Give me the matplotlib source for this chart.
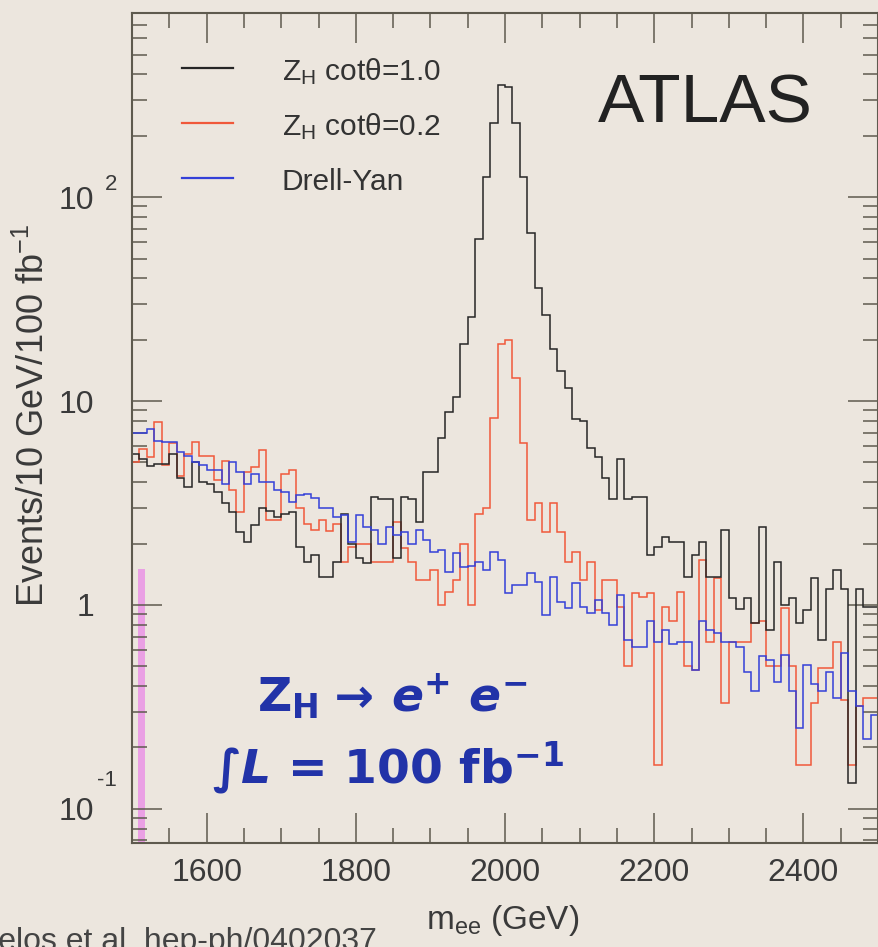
import numpy as np
import matplotlib
matplotlib.use('Agg')
import matplotlib.pyplot as plt
from matplotlib.ticker import MultipleLocator, LogLocator, FixedLocator, NullFormatter

plt.rcParams['font.family'] = ['Liberation Sans', 'DejaVu Sans']
plt.rcParams['mathtext.default'] = 'regular'

# 10 GeV bins between 1.5 and 2.5 TeV
edges = np.arange(1500, 2501, 10)

# Z_H, cot(theta) = 1.0
zh_10 = [5.5, 5.2, 4.8, 4.9, 4.9, 5.5, 4.2, 3.8, 5.0, 4.0,
         3.9, 3.6, 3.15, 2.86, 2.28, 2.04, 2.46, 3.0, 2.9, 2.7,
         2.8, 2.86, 1.92, 1.62, 1.76, 1.37, 1.37, 1.62, 2.8, 2.0,
         1.7, 1.6, 3.4, 3.3, 3.3, 1.7, 3.4, 3.3, 2.55, 4.5,
         4.5, 6.6, 8.8, 10.5, 19, 25.7, 62, 125, 230, 355,
         345, 230, 125, 67, 36, 26.5, 18, 14, 11.6, 8.2,
         8.0, 5.9, 5.3, 4.2, 3.3, 5.2, 3.3, 3.4, 3.4, 1.76,
         1.92, 2.15, 2.04, 2.04, 1.37, 1.76, 2.04, 1.37, 1.37, 2.33,
         1.08, 0.95, 1.08, 0.82, 2.4, 0.75, 1.62, 1.0, 1.08, 0.82,
         0.94, 1.36, 0.67, 1.2, 1.48, 1.2, 0.134, 1.2, 0.98, 0.98]

# Z_H, cot(theta) = 0.2
zh_02 = [5.0, 5.8, 5.3, 7.9, 4.85, 6.2, 4.3, 5.5, 6.3, 5.4,
         5.4, 4.1, 5.1, 3.66, 2.86, 4.5, 4.75, 5.75, 2.6, 2.6,
         4.4, 4.6, 3.0, 2.5, 2.33, 2.6, 2.3, 2.5, 1.62, 1.92,
         2.0, 2.0, 1.62, 1.62, 1.62, 2.55, 1.9, 1.62, 1.33, 1.33,
         1.48, 1.0, 1.16, 1.33, 2.0, 1.0, 2.8, 3.0, 8.3, 19,
         20, 13, 6.2, 2.6, 3.15, 2.28, 3.15, 2.28, 1.62, 1.82,
         1.33, 1.62, 0.94, 1.33, 1.33, 0.98, 0.50, 1.14, 1.1, 1.14,
         0.164, 0.98, 0.83, 1.16, 0.50, 0.48, 1.66, 0.66, 1.36, 0.33,
         0.66, 0.66, 0.66, 0.82, 0.83, 0.5, 0.5, 0.97, 0.5, 0.164,
         0.164, 0.33, 0.49, 0.49, 0.66, 0.34, 0.164, 0.32, 0.35, 0.35]

# Drell-Yan background
drell_yan = [7.0, 7.0, 7.3, 6.4, 6.3, 6.3, 5.6, 5.4, 5.0, 4.85,
             4.6, 4.6, 3.9, 5.0, 4.5, 3.9, 4.4, 4.0, 4.0, 3.66,
             3.6, 3.2, 3.45, 3.5, 3.35, 3.0, 3.0, 2.7, 2.75, 2.04,
             2.75, 2.4, 2.33, 2.0, 2.4, 2.2, 2.28, 2.0, 2.33, 2.08,
             1.82, 1.85, 1.45, 1.8, 1.53, 1.55, 1.62, 1.48, 1.82, 1.66,
             1.14, 1.25, 1.25, 1.43, 1.3, 0.89, 1.37, 1.03, 0.97, 1.28,
             0.98, 0.91, 1.06, 0.91, 0.80, 1.12, 0.67, 0.62, 0.62, 0.83,
             0.66, 0.75, 0.64, 0.66, 0.66, 0.48, 0.83, 0.75, 0.73, 0.66,
             0.66, 0.62, 0.47, 0.38, 0.56, 0.54, 0.42, 0.57, 0.38, 0.25,
             0.51, 0.41, 0.38, 0.47, 0.35, 0.58, 0.38, 0.32, 0.22, 0.29]

# pink strip at the low-mass edge
pink_edges = [1508, 1518]
pink_floor = 0.01
pink_top = 1.5

labels = ['Z$_H$ cotθ=1.0', 'Z$_H$ cotθ=0.2', 'Drell-Yan']
colors = ['#262626', '#f0583a', '#3440d8']
ytick_vals = [0.1, 1, 10, 100]
ytick_text = ['10', '1', '10', '10']

bg = '#ece6de'
axis_col = '#5e5a4e'
text_col = '#3a3a3a'
blue_txt = '#2233a8'

fig = plt.figure(figsize=(8.79, 9.47), dpi=100, facecolor=bg)
ax = fig.add_axes([0.1502, 0.1098, 0.8487, 0.8765])
ax.set_facecolor(bg)
ax.set_yscale('log')

ax.fill_between(pink_edges, pink_floor, pink_top, color='#eaa0e4', lw=0, zorder=1)
for vals, col in zip([zh_02, zh_10, drell_yan], [colors[1], colors[0], colors[2]]):
    ax.stairs(vals, edges, baseline=None, color=col, lw=1.1, zorder=2)

ax.set_xlim(1500, 2500)
ax.set_ylim(0.068, 800)

# ticks
ax.xaxis.set_major_locator(MultipleLocator(200))
ax.xaxis.set_minor_locator(MultipleLocator(50))
ax.yaxis.set_major_locator(FixedLocator(ytick_vals))
ax.yaxis.set_minor_locator(LogLocator(base=10, subs=np.arange(2, 10), numticks=20))
ax.yaxis.set_minor_formatter(NullFormatter())
ax.set_yticklabels(ytick_text)
ax.tick_params(which='both', direction='in', top=True, right=True,
               color=axis_col, width=1.1)
ax.tick_params(which='major', length=21.5)
ax.tick_params(which='minor', length=11)
ax.tick_params(axis='x', labelsize=23, pad=10.5, labelcolor=text_col)
ax.tick_params(axis='y', labelsize=23, pad=27, labelcolor=text_col)
for sp in ax.spines.values():
    sp.set_color(axis_col)
    sp.set_linewidth(1.5)

# exponents on the 10^n labels
ax.annotate('2', xy=(0, 100), xycoords=('axes fraction', 'data'),
            xytext=(-15, 13), textcoords='offset pixels',
            ha='right', va='center', fontsize=16, color=text_col)
ax.annotate('-1', xy=(0, 0.1), xycoords=('axes fraction', 'data'),
            xytext=(-15, 28), textcoords='offset pixels',
            ha='right', va='center', fontsize=16, color=text_col)

ax.set_ylabel('Events/10 GeV/100 fb$^{-1}$', fontsize=26, color=text_col)
ax.yaxis.set_label_coords(-0.107, 0.515)
ax.set_xlabel('m$_{ee}$ (GeV)', fontsize=24, color=text_col)
ax.xaxis.set_label_coords(0.497, -0.072)

# legend
for i, (lab, col) in enumerate(zip(labels, colors)):
    y = 0.9337 - 0.0663 * i
    ax.plot([0.067, 0.135], [y, y], transform=ax.transAxes, color=col, lw=1.6)
    ax.annotate(lab, xy=(0.201, y), xycoords='axes fraction',
                xytext=(0, -12), textcoords='offset pixels',
                va='baseline', ha='left', fontsize=21.5, color='#333333')

ax.text(0.625, 0.8675, 'ATLAS', transform=ax.transAxes, fontsize=50,
        color='#222222', va='baseline', ha='left')


def write_run(x, y, pieces, **kw):
    r = fig.canvas.get_renderer()
    for s, extra in pieces:
        t = ax.text(x, y, s, transform=ax.transAxes, va='baseline', ha='left',
                    **kw, **extra)
        bb = t.get_window_extent(r)
        x = ax.transAxes.inverted().transform((bb.x1, bb.y0))[0]


blue_kw = dict(fontsize=34, color=blue_txt, fontweight='bold',
               family=['DejaVu Sans'])
write_run(0.1676, 0.158, [('Z$_H$', {}), (' → ', {}),
                          ('e$^{+}$ e$^{-}$', {'style': 'italic'})], **blue_kw)
write_run(0.107, 0.0723, [('∫', {}), ('L', {'style': 'italic'}),
                          (' = 100 fb$^{-1}$', {})], **blue_kw)

fig.text(0.429, -0.003, 'Azuelos et al. hep-ph/0402037', ha='right',
         va='baseline', fontsize=23, color='#444444')

fig.savefig('out.png', dpi=100, facecolor=bg)
